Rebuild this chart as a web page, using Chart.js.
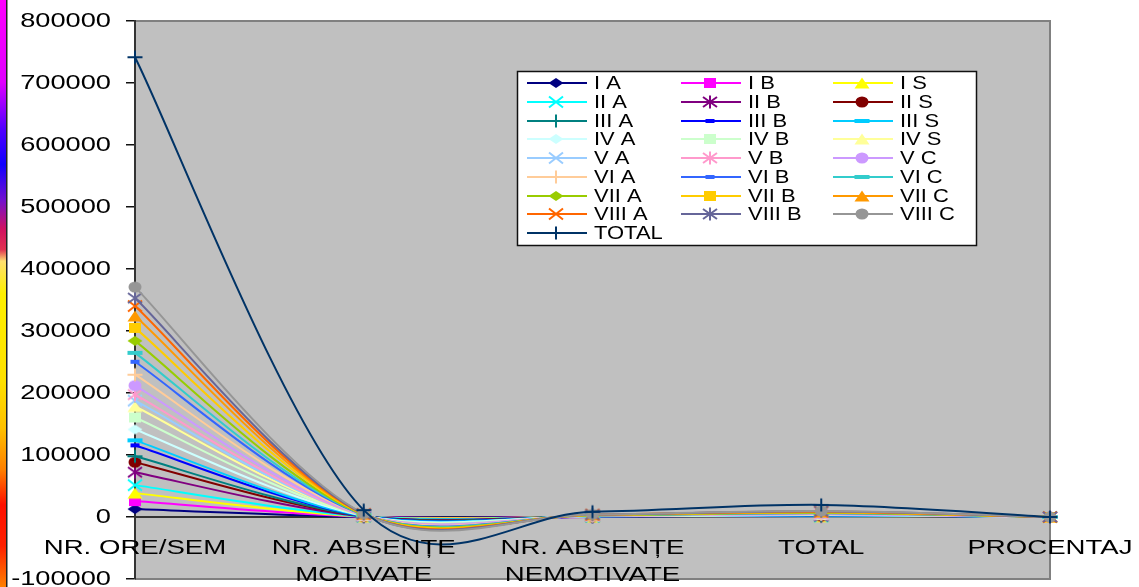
<!DOCTYPE html>
<html><head><meta charset="utf-8">
<script src="https://cdn.jsdelivr.net/npm/chart.js@4.4.1/dist/chart.umd.min.js"></script>
<style>html,body{margin:0;padding:0;background:#fff;overflow:hidden}canvas{display:block}</style>
</head><body>
<canvas id="c" width="1139" height="587"></canvas>
<script>
// ---------- data ----------
const categories = ['NR. ORE/SEM', ['NR. ABSENȚE', 'MOTIVATE'], ['NR. ABSENȚE', 'NEMOTIVATE'], 'TOTAL', 'PROCENTAJ'];
const seriesNames = ['I A','I B','I S','II A','II B','II S','III A','III B','III S','IV A','IV B','IV S',
  'V A','V B','V C','VI A','VI B','VI C','VII A','VII B','VII C','VIII A','VIII B','VIII C','TOTAL'];
// values per series (stacked line chart)
const oreSem       = [12800,12900,12800,12900,20800,16100,9600,17700,8000,17600,19300,17700,
                      9600,9600,14500,17600,20900,14400,19300,20900,19200,16100,12800,17700,370800];
const absMotivate  = [120,150,180,160,240,210,130,260,110,250,290,270,
                      140,150,220,280,330,230,310,350,320,290,230,320,5540];
const absNemotivate= [60,90,110,100,180,150,90,190,70,200,230,210,
                      100,120,170,220,260,180,250,290,260,240,190,260,4220];
const absTotal     = [180,240,290,260,420,360,220,450,180,450,520,480,
                      240,270,390,500,590,410,560,640,580,530,420,580,9760];
const procentaj    = [1.41,1.86,2.27,2.02,2.02,2.24,2.29,2.54,2.25,2.56,2.69,2.71,
                      2.50,2.81,2.69,2.84,2.82,2.85,2.90,3.06,3.02,3.29,3.28,3.28,2.63];
const yMin = -100000, yMax = 800000, yStep = 100000;

// ---------- styles ----------
const seriesColors = ['#000080','#FF00FF','#FFFF00','#00FFFF','#800080','#800000','#008080','#0000FF','#00CCFF',
  '#CCFFFF','#CCFFCC','#FFFF99','#99CCFF','#FF99CC','#CC99FF','#FFCC99','#3366FF','#33CCCC',
  '#99CC00','#FFCC00','#FF9900','#FF6600','#666699','#969696','#003366'];
const markerKinds = ['diamond','square','triangle','x','star','circle','plus','dash','dashL',
  'diamond','square','triangle','x','star','circle','plus','dash','dashL',
  'diamond','square','triangle','x','star','circle','plus'];
const FONT = "'Liberation Sans', Arial, sans-serif";

function makeMarker(kind, color) {
  const c = document.createElement('canvas');
  c.width = 20; c.height = 16;
  const g = c.getContext('2d');
  g.translate(10, 8);
  g.fillStyle = color; g.strokeStyle = color; g.lineWidth = 2; g.lineCap = 'butt';
  g.beginPath();
  switch (kind) {
    case 'diamond': g.moveTo(-7.5,0); g.lineTo(0,-5); g.lineTo(7.5,0); g.lineTo(0,5); g.closePath(); g.fill(); break;
    case 'square': g.fillRect(-6,-5,12,10); break;
    case 'triangle': g.moveTo(0,-5.5); g.lineTo(7.5,5.5); g.lineTo(-7.5,5.5); g.closePath(); g.fill(); break;
    case 'x': g.moveTo(-7,-5.5); g.lineTo(7,5.5); g.moveTo(7,-5.5); g.lineTo(-7,5.5); g.stroke(); break;
    case 'star': g.moveTo(-7,-5); g.lineTo(7,5); g.moveTo(7,-5); g.lineTo(-7,5); g.moveTo(0,-6.5); g.lineTo(0,6.5); g.stroke(); break;
    case 'circle': g.ellipse(0,0,6.5,5.5,0,0,Math.PI*2); g.fill(); break;
    case 'plus': g.moveTo(-7.5,0); g.lineTo(7.5,0); g.moveTo(0,-6.5); g.lineTo(0,6.5); g.stroke(); break;
    case 'dash': g.fillRect(-4.5,-2,9,4); break;
    case 'dashL': g.fillRect(-7.5,-2,15,4); break;
  }
  return c;
}
const markers = seriesNames.map((n, i) => makeMarker(markerKinds[i], seriesColors[i]));

function stretchedText(ctx, text, x, y, align, sx) {
  ctx.save(); ctx.translate(x, y); ctx.scale(sx, 1); ctx.textAlign = align; ctx.fillText(text, 0, 0); ctx.restore();
}

const datasets = seriesNames.map((name, i) => ({
  label: name,
  data: [oreSem[i], absMotivate[i], absNemotivate[i], absTotal[i], procentaj[i]],
  borderColor: seriesColors[i],
  backgroundColor: seriesColors[i],
  borderWidth: 2,
  pointStyle: markers[i],
  pointRadius: 6,
  fill: false,
  tension: 0.4,
  clip: false
}));

// ---------- plugins ----------
const backdrop = {
  id: 'backdrop',
  beforeDraw(chart) {
    const {ctx, chartArea: a} = chart;
    ctx.save();
    ctx.fillStyle = '#fff'; ctx.fillRect(0, 0, chart.width, chart.height);
    // slide decoration strip on the left edge
    const gr = ctx.createLinearGradient(0, 0, 0, chart.height);
    [[0,'#FF00FF'],[0.14,'#E000FF'],[0.22,'#5000FF'],[0.28,'#1000FF'],[0.34,'#7010D0'],[0.39,'#D01060'],
     [0.425,'#E03050'],[0.445,'#FFE070'],[0.5,'#FFF000'],[0.65,'#FFE000'],[0.73,'#FFC000'],[0.8,'#FF8000'],
     [0.86,'#FF1000'],[0.93,'#FF2000'],[1,'#FF8000']].forEach(s => gr.addColorStop(s[0], s[1]));
    ctx.fillStyle = gr; ctx.fillRect(0, 0, 6, chart.height);
    ctx.fillStyle = '#222'; ctx.fillRect(6, 0, 1.5, chart.height);
    // plot area
    ctx.fillStyle = '#C0C0C0';
    ctx.fillRect(a.left, a.top, a.right - a.left, a.bottom - a.top);
    ctx.strokeStyle = '#808080'; ctx.lineWidth = 2;
    ctx.beginPath();
    ctx.moveTo(a.left, a.top); ctx.lineTo(a.right, a.top); ctx.lineTo(a.right, a.bottom); ctx.lineTo(a.left, a.bottom);
    ctx.stroke();
    ctx.restore();
  }
};

// Office-style smoothing (control points at 1/6 of the neighbour chord), later series drawn on top
function officeSmoothing(chart, meta) {
  const line = meta.dataset;
  if (!line || typeof line.updateControlPoints !== 'function') return;
  line.updateControlPoints(chart.chartArea, 'x');
  const pts = meta.data, n = pts.length;
  for (let i = 0; i < n; i++) {
    const p = pts[i], pv = pts[Math.max(0, i - 1)], nx = pts[Math.min(n - 1, i + 1)];
    const dx = (nx.x - pv.x) / 6, dy = (nx.y - pv.y) / 6;
    p.cp1x = p.x - dx; p.cp1y = p.y - dy;
    p.cp2x = p.x + dx; p.cp2y = p.y + dy;
  }
  line._path = undefined;
}
const forwardOrder = {
  id: 'forwardOrder',
  beforeDatasetsDraw(chart) {
    const metas = chart.getSortedVisibleDatasetMetas();
    metas.forEach(m => officeSmoothing(chart, m));
    if (typeof chart._drawDataset !== 'function') return;
    for (let i = 0; i < metas.length; i++) chart._drawDataset(metas[i]);
    return false;
  }
};

const labelsAndLegend = {
  id: 'labelsAndLegend',
  afterDraw(chart) {
    const ctx = chart.ctx;
    const ys = chart.scales.y, xs = chart.scales.x;
    ctx.save();
    ctx.fillStyle = '#000';
    ctx.font = '20px ' + FONT;
    ctx.textBaseline = 'middle';
    ys.ticks.forEach(t => stretchedText(ctx, String(t.value), 111, ys.getPixelForValue(t.value) + 0.5, 'right', 1.36));
    // category labels, under the zero line
    ctx.textBaseline = 'alphabetic';
    const y0 = ys.getPixelForValue(0);
    categories.forEach((lab, i) => {
      const x = xs.getPixelForValue(i);
      const lines = Array.isArray(lab) ? lab : [lab];
      lines.forEach((ln, k) => stretchedText(ctx, ln, x, y0 + 37 + k * 27, 'center', 1.38));
    });
    // legend
    const bx = 517.5, by = 71.5, bw = 459, bh = 174;
    ctx.fillStyle = '#fff'; ctx.fillRect(bx, by, bw, bh);
    ctx.strokeStyle = '#111'; ctx.lineWidth = 1.5; ctx.strokeRect(bx, by, bw, bh);
    const colX = [527, 681, 833];
    ctx.font = '18px ' + FONT;
    ctx.textBaseline = 'middle';
    chart.data.datasets.forEach((ds, i) => {
      const r = Math.floor(i / 3), cidx = i % 3;
      const x0 = colX[cidx], y = Math.round(83 + r * 18.75);
      ctx.strokeStyle = ds.borderColor; ctx.lineWidth = 2;
      ctx.beginPath(); ctx.moveTo(x0, y); ctx.lineTo(x0 + 60, y); ctx.stroke();
      ctx.drawImage(ds.pointStyle, Math.round(x0 + 29 - 10), y - 8);
      ctx.fillStyle = '#000';
      stretchedText(ctx, ds.label, x0 + 67, y + 1, 'left', 1.22);
    });
    ctx.restore();
  }
};

new Chart(document.getElementById('c'), {
  type: 'line',
  data: { labels: categories, datasets },
  options: {
    responsive: false,
    animation: false,
    devicePixelRatio: 1,
    layout: { padding: { left: 126, right: 89, top: 21, bottom: 6 } },
    plugins: { legend: { display: false }, tooltip: { enabled: false } },
    elements: { line: { capBezierPoints: true } },
    scales: {
      x: {
        type: 'category',
        position: { y: 0 },
        offset: false,
        grid: { display: false, drawTicks: false },
        border: { display: true, color: '#333', width: 2 },
        ticks: { display: false }
      },
      y: {
        stacked: true,
        min: yMin, max: yMax,
        ticks: { display: false, stepSize: yStep },
        grid: { display: true, drawOnChartArea: false, drawTicks: true, tickLength: 9, color: '#111', lineWidth: 1.5 },
        border: { display: true, color: '#333', width: 2 }
      }
    }
  },
  plugins: [backdrop, forwardOrder, labelsAndLegend]
});
</script>
</body></html>
